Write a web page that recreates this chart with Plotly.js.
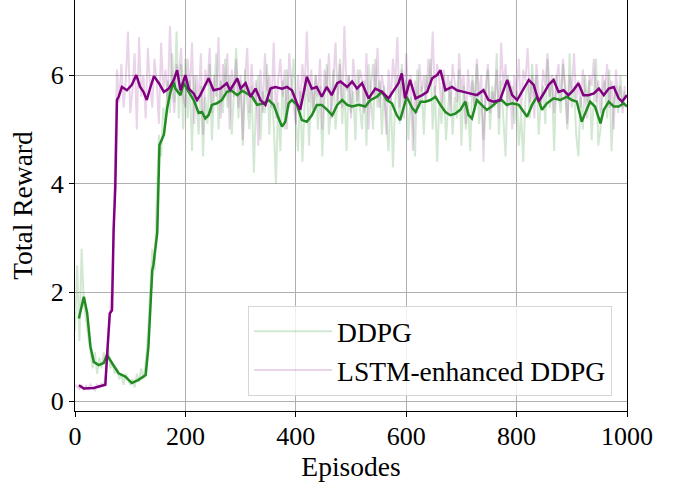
<!DOCTYPE html>
<html>
<head>
<meta charset="utf-8">
<script src="https://cdn.plot.ly/plotly-3.0.1.min.js"></script>
<style>html,body{margin:0;padding:0;background:#fff;}#chart{width:681px;height:487px;}</style>
</head>
<body>
<div id="chart"></div>
<script>
// Raw episode rewards sampled every 4 episodes (episode 0 .. 996)
const rawStep = 4;
const ddpgRaw = [
1.3,2.5,1.1,2.8,1.8,1.5,1.2,0.9,0.6,0.9,
0.5,0.8,0.6,0.9,0.7,1.0,0.6,0.7,0.5,0.6,
0.4,0.5,0.3,0.5,0.4,0.3,0.4,0.25,0.5,0.35,
0.6,0.4,0.7,1.2,2.0,2.8,2.4,3.6,4.9,4.5,
5.4,5.1,5.9,5.3,6.4,5.5,6.8,5.2,6.2,5.0,
6.3,5.2,5.9,4.6,6.0,5.5,4.9,5.8,4.5,5.6,
5.1,6.2,4.8,5.7,6.4,5.0,5.9,5.3,6.3,5.4,
6.0,4.9,5.8,6.5,5.2,5.9,4.7,6.1,5.5,5.0,
5.8,4.2,5.6,6.0,4.8,5.7,5.3,6.2,4.9,5.8,
5.1,4.0,5.5,4.6,5.9,5.0,6.1,5.4,5.7,6.3,
5.2,4.6,5.7,4.4,5.5,5.9,4.7,5.8,5.3,6.0,
5.0,5.8,4.5,5.6,6.2,4.9,5.4,6.1,5.0,5.7,
6.3,5.1,5.8,4.6,6.0,5.3,5.7,4.8,6.1,5.4,
5.0,5.9,4.7,6.2,5.5,5.0,6.3,5.4,5.9,4.9,
5.8,5.2,4.6,5.7,4.3,5.5,6.0,5.1,6.2,5.6,
5.9,4.8,5.6,5.2,4.5,6.1,5.4,5.8,4.9,6.0,
5.7,6.3,5.0,5.8,4.4,5.5,5.1,6.0,4.8,5.4,
5.9,4.9,5.6,5.2,6.1,4.7,5.8,5.0,5.5,4.6,
6.0,5.3,6.2,5.1,5.7,4.8,5.6,6.1,5.0,5.8,
5.4,6.4,4.9,5.9,5.2,4.5,6.0,5.5,5.8,5.1,
5.7,4.7,5.3,4.4,5.6,5.9,5.2,6.2,5.6,6.0,
4.9,5.5,5.8,5.1,6.3,5.4,5.9,4.6,6.0,5.6,
5.3,6.2,5.7,5.0,6.4,5.4,5.8,4.9,4.5,5.6,
5.0,6.0,5.5,5.9,4.8,5.6,6.3,4.7,5.0,5.7,
5.9,5.2,6.1,4.6,5.5,5.8,5.3,6.0,5.4,5.7
];
const lstmRaw = [
0.3,0.25,0.22,0.3,0.2,0.28,0.22,0.3,0.25,0.2,
0.3,0.26,0.32,0.28,0.5,1.1,1.9,2.3,4.2,6.1,
5.5,6.2,5.4,5.9,6.8,5.3,5.7,6.4,5.0,6.7,
5.6,6.0,5.2,6.5,5.8,5.4,6.3,5.9,5.1,6.6,
5.7,6.1,5.5,6.9,5.8,5.3,6.2,5.9,6.5,5.6,
5.4,6.3,5.7,6.6,5.1,6.0,5.5,6.4,4.9,6.1,
5.8,6.5,5.3,6.0,5.6,6.7,5.2,6.2,5.7,6.4,
5.0,6.1,5.6,6.3,5.4,6.0,4.8,5.9,6.5,5.3,
6.2,5.5,5.9,4.7,6.1,5.3,6.4,5.7,6.0,5.4,
6.6,5.2,5.9,6.3,5.6,6.1,5.0,6.4,5.8,5.5,
5.1,6.0,5.4,6.2,5.7,6.8,5.5,6.1,5.3,6.0,
5.6,6.3,5.0,6.1,5.7,6.4,5.2,5.9,6.6,5.5,
6.2,5.4,6.9,5.7,6.0,5.2,6.3,5.8,5.5,6.1,
5.9,5.3,6.4,5.0,5.8,6.2,5.6,6.5,5.4,6.0,
5.7,4.9,6.1,5.5,6.3,5.8,6.7,5.4,6.1,5.2,
6.4,5.6,6.0,4.6,5.9,5.3,6.2,5.7,6.0,5.5,
6.3,5.8,6.8,5.6,6.2,5.9,5.4,6.1,5.7,6.0,
5.3,6.2,5.8,5.5,6.4,5.7,6.0,5.1,6.1,5.6,
5.9,5.4,6.3,5.6,6.0,4.4,5.8,6.2,5.3,5.7,
5.5,6.1,5.2,6.6,5.8,6.2,5.4,5.9,5.0,6.0,
5.6,6.3,5.3,6.1,5.9,6.5,5.5,6.0,5.2,6.2,
5.7,5.4,6.1,5.8,6.4,5.6,6.0,5.3,5.9,6.2,
5.5,6.3,5.8,5.1,6.0,5.7,6.4,5.5,5.9,5.4,
6.1,5.6,5.2,6.0,5.8,6.3,5.5,5.9,5.3,6.0,
5.7,6.2,5.4,5.9,5.0,6.1,5.6,5.8,5.3,5.8
];
const rawEpisodes = ddpgRaw.map((_, i) => i * rawStep);

// Smoothed (moving-average) curves
const ddpgSmoothX = [7,16,22,28,34,43,52,58,67,79,91,103,115,128,133,140,142,149,153,161,167,173,179,182,191,197,206,215,224,230,236,242,248,257,266,275,284,294,303,312,321,330,342,351,360,369,375,381,387,393,402,411,420,429,438,447,457,466,475,484,493,502,514,526,535,547,556,565,574,583,589,595,601,611,617,626,635,644,653,662,671,680,689,698,707,713,719,728,737,746,755,765,773,782,792,804,813,819,828,837,846,855,867,879,891,900,909,918,924,933,942,952,958,967,976,985,994,1000];
const ddpgSmoothY = [1.52,1.92,1.62,1.0,0.72,0.66,0.70,0.85,0.70,0.51,0.45,0.33,0.39,0.48,1.0,2.41,2.5,3.1,4.71,4.9,5.39,5.69,5.87,5.75,5.63,5.85,5.69,5.54,5.30,5.32,5.2,5.26,5.45,5.48,5.54,5.69,5.71,5.63,5.71,5.66,5.6,5.45,5.48,5.54,5.45,5.2,5.05,5.14,5.48,5.54,5.45,5.17,5.14,5.26,5.45,5.45,5.36,5.26,5.45,5.54,5.45,5.42,5.45,5.42,5.54,5.6,5.69,5.54,5.48,5.26,5.17,5.39,5.6,5.39,5.32,5.51,5.51,5.54,5.6,5.45,5.32,5.26,5.29,5.36,5.51,5.26,5.2,5.54,5.45,5.36,5.42,5.51,5.54,5.45,5.48,5.45,5.32,5.23,5.45,5.6,5.36,5.48,5.57,5.54,5.6,5.54,5.51,5.14,5.29,5.51,5.42,5.11,5.36,5.51,5.42,5.42,5.48,5.42];
const lstmSmoothX = [7,16,34,52,55,58,63,67,70,73,76,79,85,94,103,111,118,124,130,135,143,152,161,170,179,185,191,200,206,215,221,227,242,251,263,275,281,294,300,309,318,327,336,345,354,363,375,384,393,402,408,414,420,429,438,447,456,465,475,481,493,502,511,520,532,544,556,568,577,586,592,598,607,617,629,638,647,656,662,671,683,692,704,716,728,740,749,758,770,783,792,801,810,822,831,840,849,858,867,876,885,894,903,912,921,930,940,949,958,967,976,985,991,1000];
const lstmSmoothY = [0.29,0.23,0.24,0.28,0.3,0.82,1.61,1.67,3.15,3.94,5.54,5.6,5.78,5.72,5.82,6.0,5.78,5.69,5.54,5.72,5.98,5.85,5.69,5.75,5.91,6.09,5.72,6.0,5.75,5.66,5.54,5.63,5.94,5.72,5.75,5.85,5.72,5.94,5.75,5.85,5.6,5.75,5.54,5.45,5.75,5.78,5.75,5.78,5.72,5.48,5.36,5.66,5.97,5.75,5.78,5.6,5.78,5.63,5.85,5.88,5.78,5.88,5.75,5.85,5.57,5.75,5.69,5.57,5.72,5.85,6.03,5.57,5.91,5.57,5.63,5.69,5.94,6.0,6.09,5.72,5.78,5.72,5.69,5.66,5.63,5.72,5.54,5.51,5.54,5.91,5.63,5.54,5.69,5.91,5.82,5.51,5.66,5.82,5.91,5.69,5.72,5.63,5.72,5.85,5.63,5.63,5.66,5.75,5.63,5.75,5.78,5.57,5.51,5.63];

const seriesNames = ['DDPG', 'LSTM-enhanced DDPG'];
const xTicks = [0, 200, 400, 600, 800, 1000];
const yTicks = [0, 2, 4, 6];

const green = '34,139,34';
const purple = '128,0,128';
const FONT = 'Liberation Serif, Times New Roman, serif';

const traces = [
  {x: rawEpisodes, y: ddpgRaw, type: 'scatter', mode: 'lines', name: seriesNames[0], legendgroup: 'a',
   line: {color: `rgba(${green},0.2)`, width: 2}, hoverinfo: 'skip'},
  {x: rawEpisodes, y: lstmRaw, type: 'scatter', mode: 'lines', name: seriesNames[1], legendgroup: 'b',
   line: {color: `rgba(${purple},0.17)`, width: 2}, hoverinfo: 'skip'},
  {x: ddpgSmoothX, y: ddpgSmoothY, type: 'scatter', mode: 'lines', showlegend: false,
   line: {color: `rgb(${green})`, width: 2.5}},
  {x: lstmSmoothX, y: lstmSmoothY, type: 'scatter', mode: 'lines', showlegend: false,
   line: {color: `rgb(${purple})`, width: 2.5}}
];

const layout = {
  width: 681, height: 487,
  margin: {l: 75, r: 54, t: 0, b: 76, pad: 0},
  paper_bgcolor: '#ffffff', plot_bgcolor: '#ffffff',
  font: {family: FONT, size: 26, color: '#000'},
  showlegend: true,
  legend: {
    x: 0.973, y: 0.0365, xanchor: 'right', yanchor: 'bottom',
    bgcolor: 'rgba(255,255,255,0.8)', bordercolor: '#d6d6d6', borderwidth: 1,
    font: {family: FONT, size: 27.5, color: '#000'},
    itemwidth: 78, tracegroupgap: 0
  },
  xaxis: {
    range: [0, 1000], tickvals: xTicks, ticktext: xTicks.map(String),
    showgrid: true, gridcolor: '#b0b0b0', gridwidth: 1, zeroline: false,
    showline: true, linecolor: '#000', linewidth: 1, mirror: true,
    ticks: 'outside', ticklen: 5, tickcolor: '#000', tickwidth: 1,
    tickfont: {family: FONT, size: 26}, ticklabelstandoff: -3,
    title: {text: 'Episodes', font: {family: FONT, size: 27.5}, standoff: 6}
  },
  yaxis: {
    range: [-0.184, 7.381], tickvals: yTicks, ticktext: yTicks.map(String),
    showgrid: true, gridcolor: '#b0b0b0', gridwidth: 1, zeroline: false,
    showline: true, linecolor: '#000', linewidth: 1, mirror: true,
    ticks: 'outside', ticklen: 5, tickcolor: '#000', tickwidth: 1,
    tickfont: {family: FONT, size: 26},
    title: {text: 'Total Reward', font: {family: FONT, size: 27.5}, standoff: 10}
  }
};

Plotly.newPlot('chart', traces, layout, {staticPlot: true, displayModeBar: false});
</script>
</body>
</html>
